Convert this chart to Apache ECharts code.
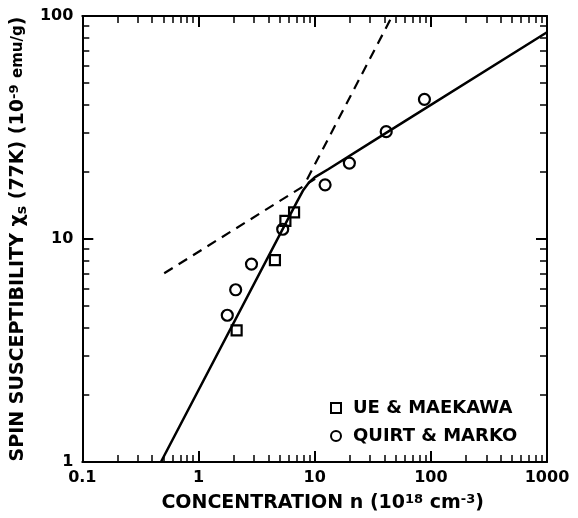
<!DOCTYPE html>
<html>
<head>
<meta charset="utf-8">
<script src="https://cdn.jsdelivr.net/npm/echarts@6/dist/echarts.min.js"></script>
<style>
html,body{margin:0;padding:0;background:#fff;}
#chart{width:578px;height:518px;}
</style>
</head>
<body>
<div id="chart"></div>
<script>
// Data
const circleX = [1.77, 2.09, 2.86, 5.31, 12.3, 19.9, 41.3, 88.1];
const circleY = [4.55, 5.92, 7.72, 11.06, 17.5, 21.9, 30.3, 42.3];
const squareX = [2.13, 4.55, 5.6, 6.65];
const squareY = [3.89, 8.04, 12.05, 13.16];
const fitX = [0.475, 7.0, 8.0, 9.0, 10.0, 13.2, 41.6, 1000];
const fitY = [1.0, 14.6, 16.6, 18.0, 18.9, 20.6, 30.0, 84.6];
const lowDashX = [0.507, 10.1];
const lowDashY = [7.02, 18.6];
const highDashX = [8.6, 46.5];
const highDashY = [18.5, 100];
const seriesNames = ['UE & MAEKAWA', 'QUIRT & MARKO'];

const pairs = (xs, ys) => xs.map((x, i) => [x, ys[i]]);
const FONT = 'DejaVu Sans';
const ink = '#000';
const fmt = v => (v >= 1 ? Math.round(v).toString() : String(+v.toPrecision(3)));

const chart = echarts.init(document.getElementById('chart'), null, {renderer: 'canvas'});

const axisCommon = {
  type: 'log', logBase: 10,
  axisLine: {show: true, lineStyle: {color: ink, width: 2}},
  axisTick: {show: true, inside: true, length: 11, lineStyle: {color: ink, width: 2}},
  minorTick: {show: true, splitNumber: 9, length: 7, lineStyle: {color: ink, width: 1.5}},
  splitLine: {show: false},
  minorSplitLine: {show: false}
};

const option = {
  backgroundColor: '#fff',
  animation: false,
  grid: {left: 81, right: 31, top: 16, bottom: 53, containLabel: false},
  legend: {
    orient: 'vertical', left: 325, top: 394,
    itemWidth: 10, itemHeight: 10, itemGap: 10,
    textStyle: {fontFamily: FONT, fontWeight: 'bold', fontSize: 18, color: ink, lineHeight: 18, padding: [0, 0, 0, 7]},
    data: seriesNames
  },
  xAxis: [
    Object.assign({}, axisCommon, {
      position: 'bottom', min: 0.1, max: 1000,
      axisLabel: {show: true, margin: 8, fontFamily: FONT, fontWeight: 'bold', fontSize: 16, color: ink, formatter: fmt},
      name: 'CONCENTRATION n (10{sup|18} cm{sup|-3})',
      nameLocation: 'middle', nameGap: 31,
      nameTextStyle: {fontFamily: FONT, fontWeight: 'bold', fontSize: 19, color: ink, padding: [0, 0, 0, 16],
        rich: {sup: {fontFamily: FONT, fontWeight: 'bold', fontSize: 13, color: ink, verticalAlign: 'top', padding: [0, 0, 8, 0]}}}
    }),
    Object.assign({}, axisCommon, {
      position: 'top', min: 0.1, max: 1000,
      axisLabel: {show: false}
    })
  ],
  yAxis: [
    Object.assign({}, axisCommon, {
      position: 'left', min: 1, max: 100,
      axisLabel: {show: true, margin: 9, fontFamily: FONT, fontWeight: 'bold', fontSize: 16, color: ink, formatter: fmt},
      name: 'SPIN SUSCEPTIBILITY χ{sub|s} (77K) (10{sup|-9} {small|emu/g})',
      nameLocation: 'middle', nameGap: 46, nameRotate: 90,
      nameTextStyle: {fontFamily: FONT, fontWeight: 'bold', fontSize: 19, color: ink,
        rich: {
          sup: {fontFamily: FONT, fontWeight: 'bold', fontSize: 13, color: ink, verticalAlign: 'top', padding: [0, 0, 8, 0]},
          sub: {fontFamily: FONT, fontWeight: 'bold', fontSize: 14, color: ink, verticalAlign: 'bottom', padding: [6, 0, 0, 0]},
          small: {fontFamily: FONT, fontWeight: 'bold', fontSize: 15, color: ink}
        }}
    }),
    Object.assign({}, axisCommon, {
      position: 'right', min: 1, max: 100,
      axisLabel: {show: false}
    })
  ],
  series: [
    {
      type: 'line', name: 'fit', data: pairs(fitX, fitY),
      xAxisIndex: 0, yAxisIndex: 0, showSymbol: false, symbol: 'none',
      lineStyle: {color: ink, width: 2.5}, z: 2
    },
    {
      type: 'line', name: 'low', data: pairs(lowDashX, lowDashY),
      showSymbol: false, symbol: 'none',
      lineStyle: {color: ink, width: 2.2, type: [10, 7]}, z: 2
    },
    {
      type: 'line', name: 'high', data: pairs(highDashX, highDashY),
      showSymbol: false, symbol: 'none',
      lineStyle: {color: ink, width: 2.2, type: [10, 7]}, z: 2
    },
    {
      type: 'scatter', name: seriesNames[0], data: pairs(squareX, squareY),
      symbol: 'rect', symbolSize: 10,
      itemStyle: {color: 'rgba(255,255,255,0)', borderColor: ink, borderWidth: 2.2, opacity: 1}, z: 3
    },
    {
      type: 'scatter', name: seriesNames[1], data: pairs(circleX, circleY),
      symbol: 'circle', symbolSize: 11,
      itemStyle: {color: 'rgba(255,255,255,0)', borderColor: ink, borderWidth: 2.2, opacity: 1}, z: 3
    }
  ]
};
chart.setOption(option);
</script>
</body>
</html>
